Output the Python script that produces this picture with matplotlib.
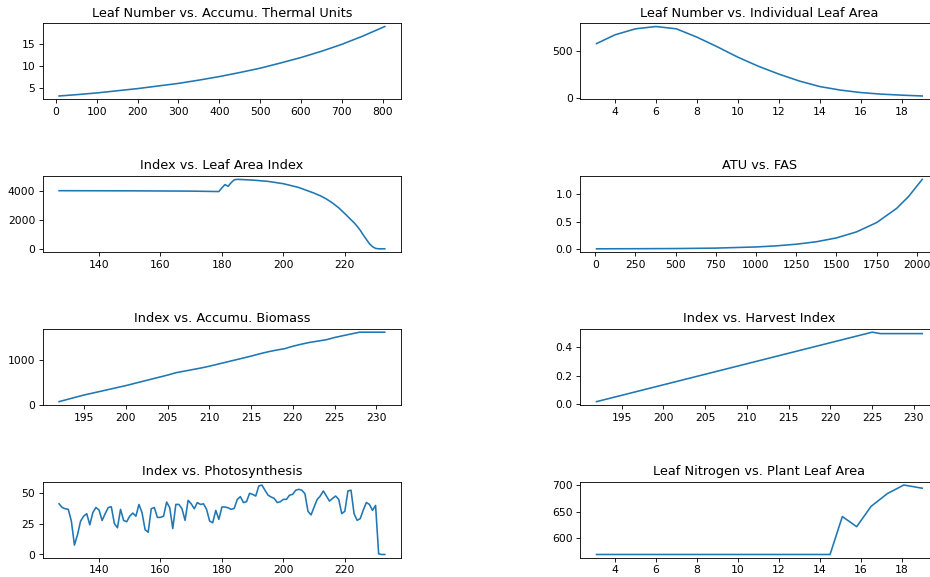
import numpy as np
import matplotlib
matplotlib.use("Agg")
import matplotlib.pyplot as plt

# leaf number vs accumulated thermal units
atu_leaf = [8, 50, 100, 150, 200, 250, 300, 350, 400, 450, 500, 550, 600, 650, 700, 750, 800, 805]
leaf_num = [3.1, 3.4, 3.8, 4.3, 4.8, 5.4, 6.0, 6.75, 7.57, 8.5, 9.5, 10.7, 11.96, 13.4, 15.0, 16.85, 18.9, 19.1]

# leaf number vs individual leaf area
leaf_no = [3.1, 4, 5, 6, 7, 8, 9, 10, 11, 12, 13, 14, 15, 16, 17, 18, 19]
leaf_area = [585, 680, 745, 770, 745, 655, 550, 438, 340, 255, 180, 120, 82, 55, 38, 27, 18]

# day index vs leaf area index
lai_day = [127, 150, 170, 179, 180, 181, 182, 183, 184, 185, 190, 195, 200, 205, 210, 212, 214,
           216, 218, 220, 222, 223, 224, 225, 226, 227, 228, 229, 230, 231, 233]
lai = [4000, 3990, 3970, 3940, 4200, 4420, 4300, 4550, 4750, 4780, 4730, 4640, 4480, 4220, 3830,
       3650, 3430, 3150, 2820, 2420, 2000, 1800, 1550, 1280, 950, 650, 350, 150, 30, 0, 0]

# ATU vs FAS
atu = [8, 250, 500, 750, 1000, 1125, 1250, 1375, 1500, 1625, 1750, 1875, 1950, 2034]
fas = [0.001, 0.003, 0.006, 0.014, 0.035, 0.055, 0.085, 0.13, 0.2, 0.31, 0.48, 0.74, 0.96, 1.27]

# day index vs accumulated biomass / harvest index
bio_day = list(range(192, 232))
biomass = [70, 120, 170, 218, 260, 302, 344, 386, 428, 475, 522, 569, 616, 662, 715, 750, 785,
           820, 860, 905, 950, 995, 1040, 1085, 1135, 1180, 1218, 1250, 1305, 1350, 1390, 1420,
           1450, 1500, 1540, 1580, 1618, 1618, 1618, 1618]
hi_day = [192, 225, 226, 231]
harvest_index = [0.018, 0.505, 0.495, 0.495]

# day index vs photosynthesis
photo_day = list(range(127, 234))
photo = [41, 38, 37, 36.5, 27, 7.6, 16, 27, 31, 33, 24, 34, 38, 36, 27.5, 33, 38, 38.6, 25, 21.6,
         36.5, 27.6, 26.5, 31, 33.5, 31, 40.5, 33.8, 20, 18, 37, 38, 30, 30, 31, 42.4, 38, 21,
         40.5, 40.5, 37, 27.6, 43.8, 41, 37, 42, 40.5, 41, 36.5, 27, 25.7, 35.7, 28.4, 38.4, 38.4,
         37.8, 36.5, 37.3, 44.6, 46.8, 42, 42.7, 49.5, 48.6, 47.3, 55.4, 56.2, 52, 48, 46.5, 45.4,
         42, 42.7, 44.6, 44.6, 48, 48.6, 52, 52.7, 52, 49.2, 35, 32, 38.4, 44.6, 47.3, 51.4, 47.3,
         43.2, 45.4, 47.3, 44.6, 33, 35, 51.4, 52, 33, 27.6, 29, 36, 42, 40.5, 35.7, 39.7, 0.5, 0, 0]

# plant leaf area vs leaf nitrogen
plant_leaf = [3.1, 14.5, 15.1, 15.8, 16.5, 17.3, 18.1, 19.0]
leaf_nitrogen = [570, 570, 641, 622, 660, 684, 700, 694]

# drawn at a bigger size and lower dpi so text comes out small like the reference
fig, axes = plt.subplots(4, 2, figsize=(12.08, 7.494), dpi=77)
plt.subplots_adjust(left=0.046, right=1.009, top=0.96, bottom=0.033, hspace=1.0, wspace=0.5)

panels = [
    (atu_leaf, leaf_num, "Leaf Number vs. Accumu. Thermal Units"),
    (leaf_no, leaf_area, "Leaf Number vs. Individual Leaf Area"),
    (lai_day, lai, "Index vs. Leaf Area Index"),
    (atu, fas, "ATU vs. FAS"),
    (bio_day, biomass, "Index vs. Accumu. Biomass"),
    (hi_day, harvest_index, "Index vs. Harvest Index"),
    (photo_day, photo, "Index vs. Photosynthesis"),
    (plant_leaf, leaf_nitrogen, "Leaf Nitrogen vs. Plant Leaf Area"),
]

for ax, (x, y, title) in zip(axes.flat, panels):
    ax.plot(x, y)
    ax.set_title(title)

fig.savefig("out.png", dpi=77)
